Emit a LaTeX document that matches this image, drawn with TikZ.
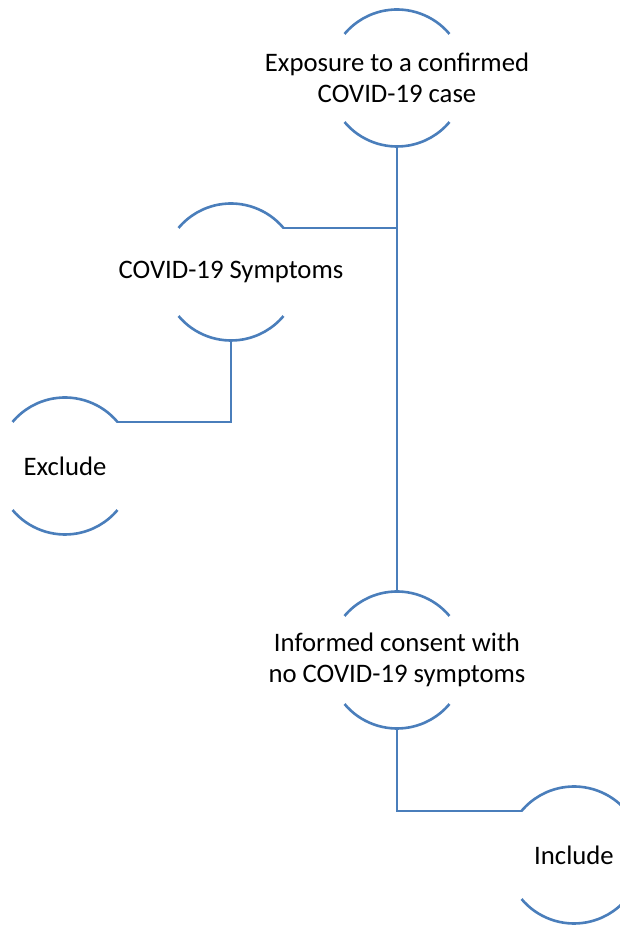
\documentclass[tikz,border=0pt]{standalone}
\usepackage{fontspec}
\setmainfont{Carlito}
\definecolor{arcblue}{RGB}{74,126,187}
\begin{document}
\begin{tikzpicture}[x=1pt,y=1pt,
  circnode/.style={circle,minimum size=137pt,inner sep=0pt,outer sep=0pt,draw=none},
  lbl/.style={font=\fontsize{26.7}{30.5}\selectfont,align=center,text=black,inner sep=0pt},
  arcline/.style={draw=arcblue,line width=2.6pt},
  link/.style={draw=arcblue,line width=2.6pt}]
\useasboundingbox (0,0) rectangle (619,927);
\node[circnode,label={[lbl]center:Exposure to a confirmed\\COVID-19 case}] (exp) at (397,849) {};
\node[circnode,label={[lbl]center:COVID-19 Symptoms}] (sym) at (231,655) {};
\node[circnode,label={[lbl]center:Exclude}] (exc) at (65,461) {};
\node[circnode,label={[lbl]center:Informed consent with\\no COVID-19 symptoms}] (inf) at (397,267) {};
\node[circnode,label={[lbl]center:Include}] (inc) at (574,72) {};
\foreach \n in {exp,sym,exc,inf,inc}{
  \draw[arcline] (\n.40) arc[start angle=40,end angle=140,radius=68.5pt];
  \draw[arcline] (\n.220) arc[start angle=220,end angle=320,radius=68.5pt];
}
\draw[link] (exp.south) -- (inf.north);
\draw[link] (exp.south |- sym.40) -- (sym.40);
\draw[link] (sym.south) |- (exc.40);
\draw[link] (inf.south) |- (inc.140);
\end{tikzpicture}
\end{document}
